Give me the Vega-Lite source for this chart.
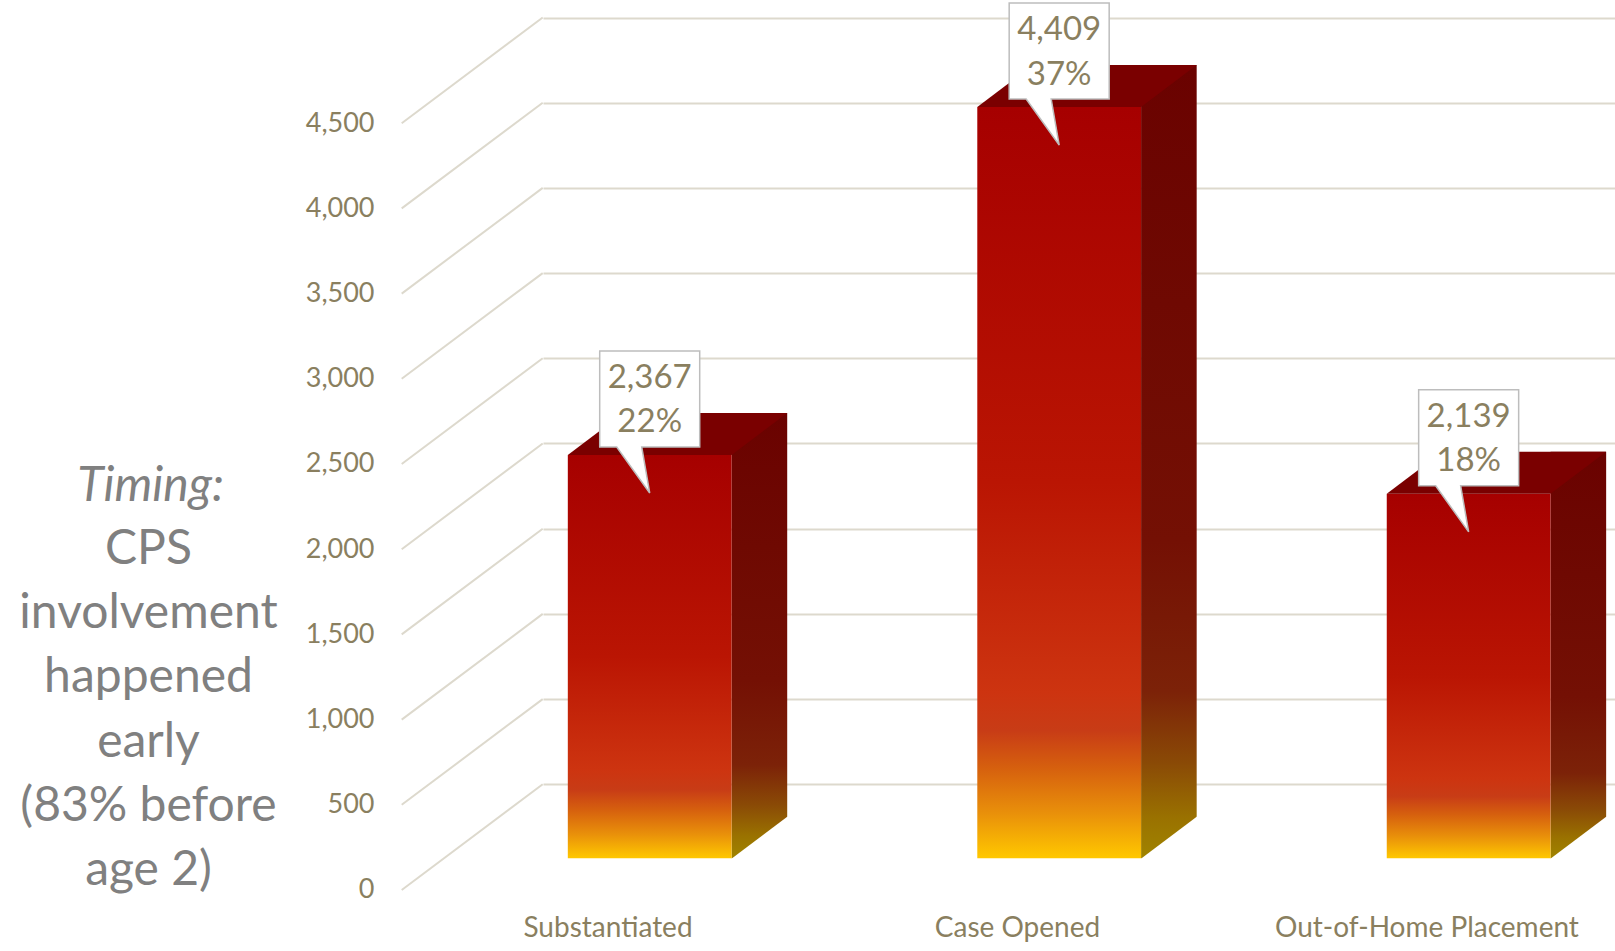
{
  "$schema": "https://vega.github.io/schema/vega-lite/v6.json",
  "autosize": {"type": "none"},
  "padding": {"left": 543, "top": 0, "right": 0, "bottom": 46},
  "width": 1072,
  "height": 905,
  "background": "white",
  "config": {"view": {"stroke": null}, "font": "Lato"},
  "datasets": {
    "bars": [
      {"category": "Substantiated", "count": 2367, "pct": 0.22},
      {"category": "Case Opened", "count": 4409, "pct": 0.37},
      {"category": "Out-of-Home Placement", "count": 2139, "pct": 0.18}
    ],
    "ticks": [
      {"tick": 0}, {"tick": 500}, {"tick": 1000}, {"tick": 1500}, {"tick": 2000},
      {"tick": 2500}, {"tick": 3000}, {"tick": 3500}, {"tick": 4000}, {"tick": 4500}
    ]
  },
  "layer": [
    {
      "data": {"name": "bars"},
      "mark": {"type": "bar", "width": 55.6, "xOffset": 109.7, "yOffset": -42,
        "fill": {"gradient": "linear", "x1": 0, "y1": 0, "x2": 0, "y2": 1, "stops": [
          {"offset": 0, "color": "#6A0200"},
          {"offset": 0.6, "color": "#741004"},
          {"offset": 0.79, "color": "#7C2208"},
          {"offset": 0.88, "color": "#8A4A06"},
          {"offset": 0.95, "color": "#9A7200"},
          {"offset": 1, "color": "#A08400"}
        ]}},
      "encoding": {
        "x": {"field": "category", "type": "nominal",
          "scale": {"domain": ["Substantiated", "Case Opened", "Out-of-Home Placement"], "paddingInner": 0.6, "paddingOuter": 0.109, "align": 0.278},
          "axis": {"title": "Timing:", "titleX": -393, "titleY": -405, "titleAlign": "center", "titleAnchor": "start", "titleBaseline": "alphabetic", "titleFontStyle": "italic", "titleFontSize": 48, "titleFontWeight": "normal", "titleColor": "#808080", "titleFont": "Lato",
            "labelOffset": -41.7, "labelPadding": 31.7, "labelBaseline": "alphabetic", "labelAngle": 0, "labelFontSize": 28, "labelColor": "#8A7F5F", "labelFont": "Lato", "labelLimit": 0,
            "ticks": false, "domain": false, "grid": false}},
        "y": {"field": "count", "type": "quantitative",
          "scale": {"domain": [-274.1, 5037], "nice": false, "zero": false},
          "axis": {"values": [0, 500, 1000, 1500, 2000, 2500, 3000, 3500, 4000, 4500], "labelExpr": "format(datum.value, ',')",
            "tickOffset": -74, "labelOffset": 105.7, "labelPadding": 169, "ticks": false, "domain": false,
            "grid": true, "gridColor": "#DDD9CD", "gridWidth": 2,
            "labelFontSize": 27, "labelColor": "#8A7F5F", "labelFont": "Lato", "labelAlign": "right", "labelBaseline": "middle",
            "title": ["CPS", "involvement", "happened", "early", "(83% before", "age 2)"],
            "titleAngle": 0, "titleX": -395, "titleY": 563.3, "titleAlign": "center", "titleAnchor": "start", "titleBaseline": "alphabetic",
            "titleFontSize": 48, "titleFontWeight": "normal", "titleColor": "#808080", "titleFont": "Lato", "titleLineHeight": 64.3}},
        "y2": {"datum": 0}
      }
    },
    {
      "data": {"name": "ticks"},
      "mark": {"type": "point", "shape": "M-248,31.7 L-107,-74", "size": 4, "filled": false, "fill": null, "stroke": "#DDD9CD", "strokeWidth": 2, "opacity": 1},
      "encoding": {
        "x": {"datum": "Substantiated", "type": "nominal"},
        "y": {"field": "tick", "type": "quantitative"}
      }
    },
    {
      "data": {"name": "bars"},
      "mark": {"type": "point", "shape": "M82.4,0 L137.5,-41.6 L141,-41.6 L141,3 L82.4,3 Z", "size": 4, "filled": true, "fill": "white", "strokeWidth": 0, "opacity": 1},
      "encoding": {
        "x": {"field": "category", "type": "nominal"},
        "y": {"datum": 0, "type": "quantitative"}
      }
    },
    {
      "data": {"name": "bars"},
      "mark": {"type": "bar",
        "fill": {"gradient": "linear", "x1": 0, "y1": 0, "x2": 0, "y2": 1, "stops": [
          {"offset": 0, "color": "#A60000"},
          {"offset": 0.5, "color": "#BA1503"},
          {"offset": 0.78, "color": "#CD3410"},
          {"offset": 0.83, "color": "#C83C16"},
          {"offset": 0.88, "color": "#D6600E"},
          {"offset": 0.94, "color": "#E9900A"},
          {"offset": 1, "color": "#FFC800"}
        ]}},
      "encoding": {
        "x": {"field": "category", "type": "nominal"},
        "y": {"field": "count", "type": "quantitative"},
        "y2": {"datum": 0}
      }
    },
    {
      "data": {"name": "bars"},
      "mark": {"type": "point", "shape": "M-81.9,0 L81.9,0 L137.5,-42 L-26.3,-42 Z", "size": 4, "filled": true, "fill": "#7A0000", "strokeWidth": 0, "opacity": 1},
      "encoding": {
        "x": {"field": "category", "type": "nominal"},
        "y": {"field": "count", "type": "quantitative"}
      }
    },
    {
      "data": {"name": "bars"},
      "mark": {"type": "point", "shape": "M-50,-104 L50,-104 L50,-8 L-8,-8 L0,38 L-33,-8 L-50,-8 Z", "size": 4, "filled": true, "fill": "white", "stroke": "#BDBDBD", "strokeWidth": 1.5, "opacity": 1},
      "encoding": {
        "x": {"field": "category", "type": "nominal"},
        "y": {"field": "count", "type": "quantitative"}
      }
    },
    {
      "data": {"name": "bars"},
      "mark": {"type": "text", "dy": -77, "fontSize": 33, "font": "Lato", "color": "#8A7F5F", "baseline": "middle", "align": "center"},
      "encoding": {
        "x": {"field": "category", "type": "nominal"},
        "y": {"field": "count", "type": "quantitative"},
        "text": {"field": "count", "type": "quantitative", "format": ","}
      }
    },
    {
      "data": {"name": "bars"},
      "mark": {"type": "text", "dy": -32.5, "fontSize": 33, "font": "Lato", "color": "#8A7F5F", "baseline": "middle", "align": "center"},
      "encoding": {
        "x": {"field": "category", "type": "nominal"},
        "y": {"field": "count", "type": "quantitative"},
        "text": {"field": "pct", "type": "quantitative", "format": ".0%"}
      }
    }
  ]
}
